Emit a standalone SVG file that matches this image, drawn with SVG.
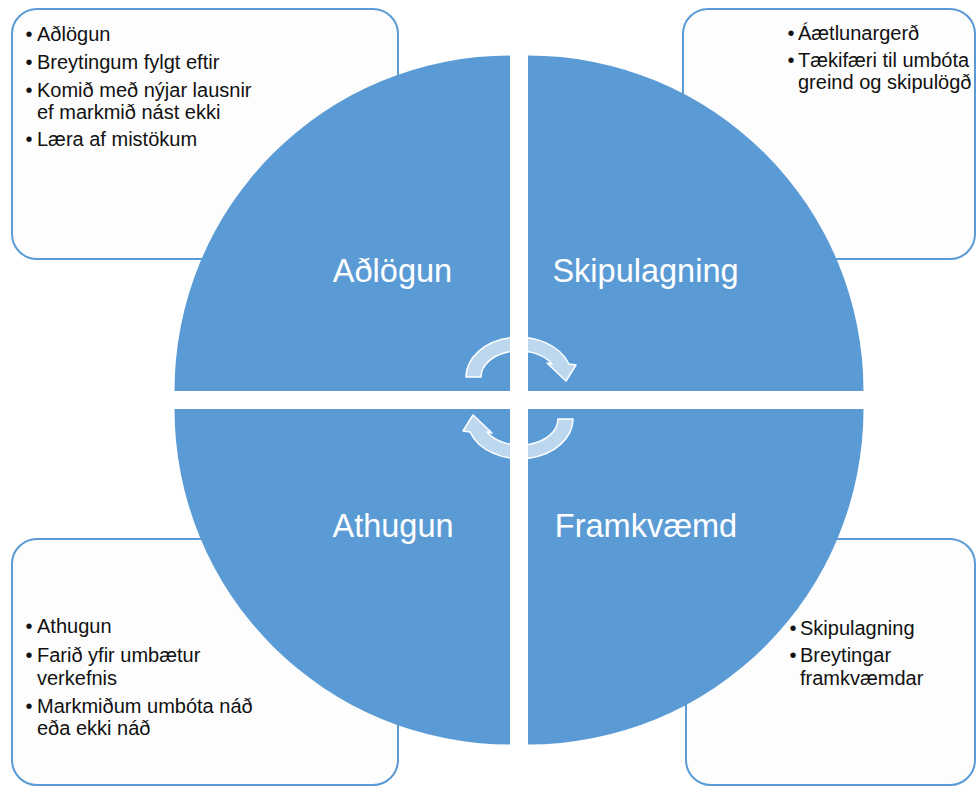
<svg xmlns="http://www.w3.org/2000/svg" width="976" height="787" viewBox="0 0 976 787">
  <style>
    .box { fill: #FDFDFD; stroke: #5B9BD5; stroke-width: 2; }
    .quad { fill: #5B9BD5; }
    .btxt { font-family: "Liberation Sans", Arial, sans-serif; font-size: 20px; fill: #111111; }
    .qtxt { font-family: "Liberation Sans", Arial, sans-serif; font-size: 32.5px; fill: #FFFFFF; text-anchor: middle; }
    .cyc { fill: #FFFFFF; fill-opacity: 0.6; stroke: #FFFFFF; stroke-width: 1.5; stroke-linejoin: round; }
  </style>
  <rect width="976" height="787" fill="#FFFFFF"/>

  <g id="box-adlogun">
    <rect class="box" x="12" y="9" width="386" height="250" rx="25" ry="25"/>
    <text class="btxt" y="41"><tspan x="25.5">•</tspan><tspan x="37">Aðlögun</tspan></text>
    <text class="btxt" y="68.5"><tspan x="25.5">•</tspan><tspan x="37">Breytingum fylgt eftir</tspan></text>
    <text class="btxt" y="96.5"><tspan x="25.5">•</tspan><tspan x="37">Komið með nýjar lausnir</tspan></text>
    <text class="btxt" x="37" y="118.5">ef markmið nást ekki</text>
    <text class="btxt" y="146"><tspan x="25.5">•</tspan><tspan x="37">Læra af mistökum</tspan></text>
  </g>

  <g id="box-skipulagning">
    <rect class="box" x="683" y="9" width="292" height="250" rx="25" ry="25"/>
    <text class="btxt" y="40"><tspan x="787.5">•</tspan><tspan x="798">Áætlunargerð</tspan></text>
    <text class="btxt" y="66.7"><tspan x="787.5">•</tspan><tspan x="798">Tækifæri til umbóta</tspan></text>
    <text class="btxt" x="798" y="88.5">greind og skipulögð</text>
  </g>

  <g id="box-athugun">
    <rect class="box" x="12" y="539" width="386" height="246" rx="25" ry="25"/>
    <text class="btxt" y="633.3"><tspan x="25.5">•</tspan><tspan x="37">Athugun</tspan></text>
    <text class="btxt" y="661.7"><tspan x="25.5">•</tspan><tspan x="37">Farið yfir umbætur</tspan></text>
    <text class="btxt" x="37" y="684.5">verkefnis</text>
    <text class="btxt" y="712.7"><tspan x="25.5">•</tspan><tspan x="37">Markmiðum umbóta náð</tspan></text>
    <text class="btxt" x="37" y="734.5">eða ekki náð</text>
  </g>

  <g id="box-framkvaemd">
    <rect class="box" x="686" y="539" width="289" height="246" rx="25" ry="25"/>
    <text class="btxt" y="634.5"><tspan x="789.5">•</tspan><tspan x="800">Skipulagning</tspan></text>
    <text class="btxt" y="661.7"><tspan x="789.5">•</tspan><tspan x="800">Breytingar</tspan></text>
    <text class="btxt" x="800" y="684.5">framkvæmdar</text>
  </g>

  <g id="node-adlogun">
    <path class="quad" d="M510,391 L174.5,391 A335.5,335.5 0 0 1 510,55.5 Z"/>
    <text class="qtxt" x="392.5" y="282">Aðlögun</text>
  </g>
  <g id="node-skipulagning">
    <path class="quad" d="M528,391 L528,55.5 A335.5,335.5 0 0 1 863.5,391 Z"/>
    <text class="qtxt" x="645.5" y="282">Skipulagning</text>
  </g>
  <g id="node-athugun">
    <path class="quad" d="M510,409 L510,744.5 A335.5,335.5 0 0 1 174.5,409 Z"/>
    <text class="qtxt" x="393" y="537">Athugun</text>
  </g>
  <g id="node-framkvaemd">
    <path class="quad" d="M528,409 L863.5,409 A335.5,335.5 0 0 1 528,744.5 Z"/>
    <text class="qtxt" x="646" y="537">Framkvæmd</text>
  </g>

  <g id="connectors">
    <path class="cyc" d="M466,377 A53,40 0 0 1 569,364 L576,365 L566,381 L547,363 L552,364 A38,26 0 0 0 481,377 Z"/>
    <path class="cyc" d="M573,419 A53,40 0 0 1 470,432 L463,431 L473,415 L492,433 L487,432 A38,26 0 0 0 558,419 Z"/>
  </g>
</svg>
